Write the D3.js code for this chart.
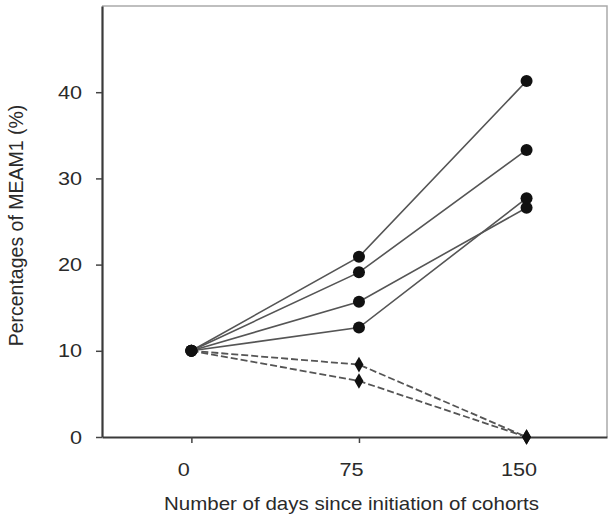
<!DOCTYPE html>
<html>
<head>
<meta charset="utf-8">
<script src="https://cdn.jsdelivr.net/npm/d3@7"></script>
<style>
  body { margin: 0; background: #fff; }
  text { font-family: "Liberation Sans", Arial, sans-serif; fill: #2a2a2a; }
</style>
</head>
<body>
<div id="chart"></div>
<script>
// Days since initiation of cohorts
const days = [0, 75, 150];
// Cohorts that increased (solid lines, circles)
const risingSeries = [
  [10, 20.9, 41.3],
  [10, 19.1, 33.3],
  [10, 15.7, 26.6],
  [10, 12.7, 27.7]
];
// Cohorts that declined (dashed lines, diamonds)
const fallingSeries = [
  [10, 8.4, 0],
  [10, 6.5, 0]
];
const yTicks = [0, 10, 20, 30, 40];

const width = 611, height = 515;
const margin = { left: 102, right: 607, top: 6, bottom: 437 };
const stretch = 1.14; // the source picture is a little wider than its fonts

const svg = d3.select("#chart").append("svg")
  .attr("width", width)
  .attr("height", height);

const x = d3.scaleLinear().domain([-40, 186]).range([margin.left, margin.right]);
const y = d3.scaleLinear().domain([0, 50]).range([margin.bottom, margin.top]);

// light frame on top and right
svg.append("path")
  .attr("d", `M${margin.left},${margin.top}H${margin.right}V${margin.bottom}`)
  .attr("fill", "none")
  .attr("stroke", "#aaa")
  .attr("stroke-width", 1.5);

// axes
const yAxis = svg.append("g")
  .attr("transform", `translate(${margin.left},0)`)
  .call(d3.axisLeft(y).tickValues(yTicks).tickSize(6).tickSizeOuter(0).tickPadding(14));

const xAxis = svg.append("g")
  .attr("transform", `translate(0,${margin.bottom})`)
  .call(d3.axisBottom(x).tickValues(days).tickSize(6).tickSizeOuter(0).tickPadding(20));

[yAxis, xAxis].forEach(g => {
  g.select(".domain").attr("stroke", "#3a3a3a").attr("stroke-width", 2.2);
  g.selectAll(".tick line").attr("stroke", "#444").attr("stroke-width", 1.5);
  g.selectAll(".tick text")
    .style("font-size", "19px")
    .style("fill", "#2a2a2a")
    .style("font-family", "'Liberation Sans', Arial, sans-serif");
});

// widen tick labels around their anchor
yAxis.selectAll(".tick text")
  .attr("transform", `translate(-20,0) scale(${stretch},1)`)
  .attr("x", 0);
xAxis.selectAll(".tick text")
  .attr("transform", `translate(-8,0) scale(${stretch},1)`);

// axis titles
svg.append("text")
  .attr("transform", `translate(${(margin.left + margin.right) / 2 - 3},510) scale(${stretch},1)`)
  .attr("text-anchor", "middle")
  .style("font-size", "18px")
  .text("Number of days since initiation of cohorts");

svg.append("text")
  .attr("transform", `translate(23,${(margin.top + margin.bottom) / 2 + 4}) rotate(-90)`)
  .attr("text-anchor", "middle")
  .style("font-size", "19.5px")
  .text("Percentages of MEAM1 (%)");

const line = d3.line()
  .x((d, i) => x(days[i]))
  .y(d => y(d));

// solid series
svg.append("g")
  .selectAll("path")
  .data(risingSeries)
  .join("path")
  .attr("d", line)
  .attr("fill", "none")
  .attr("stroke", "#555")
  .attr("stroke-width", 1.6);

// dashed series
svg.append("g")
  .selectAll("path")
  .data(fallingSeries)
  .join("path")
  .attr("d", line)
  .attr("fill", "none")
  .attr("stroke", "#555")
  .attr("stroke-width", 1.8)
  .attr("stroke-dasharray", "7,3");

// markers
const diamond = d3.symbol(d3.symbolDiamond, 70);

fallingSeries.forEach(s => {
  svg.append("g")
    .selectAll("path")
    .data(s.slice(1))
    .join("path")
    .attr("transform", (d, i) => `translate(${x(days[i + 1])},${y(d)})`)
    .attr("d", diamond)
    .attr("fill", "#111");
});

risingSeries.forEach(s => {
  svg.append("g")
    .selectAll("circle")
    .data(s)
    .join("circle")
    .attr("cx", (d, i) => x(days[i]))
    .attr("cy", d => y(d))
    .attr("r", 6)
    .attr("fill", "#111");
});
</script>
</body>
</html>
